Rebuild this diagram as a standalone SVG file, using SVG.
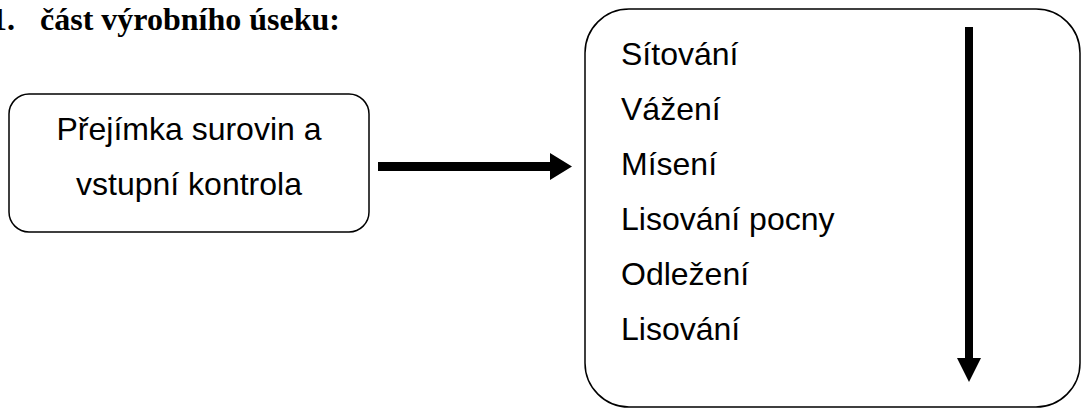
<svg xmlns="http://www.w3.org/2000/svg" width="1081" height="410" viewBox="0 0 1081 410">
  <style>
    .box { fill: #ffffff; stroke: #000000; stroke-width: 1.5; }
    .lbl { font-family: "Liberation Sans", Arial, sans-serif; font-size: 32px; fill: #000000; }
    .title { font-family: "Liberation Serif", "Times New Roman", serif; font-size: 32px; font-weight: bold; fill: #000000; }
    .arrow { fill: #000000; stroke: none; }
  </style>
  <rect width="1081" height="410" fill="#ffffff"/>
  <text class="title" y="30"><tspan x="-9">1.</tspan><tspan x="40">část výrobního úseku:</tspan></text>
  <g id="node-prejimka">
    <rect class="box" x="9" y="94" width="360" height="138" rx="20" ry="20"/>
    <text class="lbl" text-anchor="middle" x="189" y="140">Přejímka surovin a</text>
    <text class="lbl" text-anchor="middle" x="189" y="195">vstupní kontrola</text>
  </g>
  <g id="node-steps">
    <rect class="box" x="585" y="9" width="495" height="398" rx="44" ry="44"/>
    <text class="lbl" x="621" y="65">Sítování</text>
    <text class="lbl" x="621" y="120">Vážení</text>
    <text class="lbl" x="621" y="175">Mísení</text>
    <text class="lbl" x="621" y="230">Lisování pocny</text>
    <text class="lbl" x="621" y="285">Odležení</text>
    <text class="lbl" x="621" y="340">Lisování</text>
  </g>
  <g id="connectors">
    <path class="arrow" d="M378,162 L550,162 L550,153 L572,166.5 L550,180 L550,171 L378,171 Z"/>
    <path class="arrow" d="M965,27 L973,27 L973,358 L981,358 L969,382 L957,358 L965,358 Z"/>
  </g>
</svg>
